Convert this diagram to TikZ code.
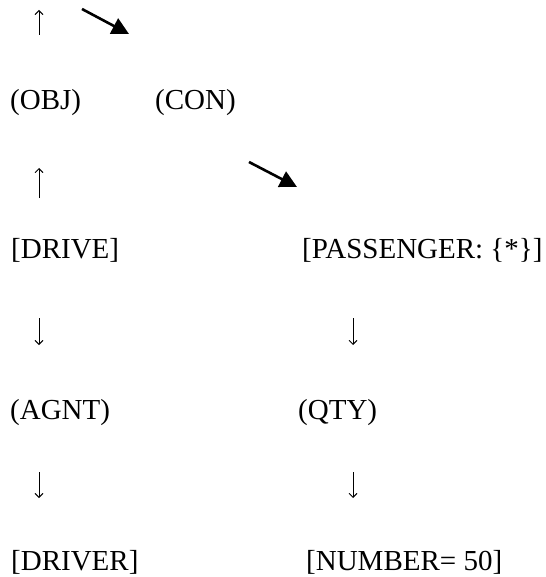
\documentclass[tikz,border=0pt]{standalone}
\usepackage{fontspec}
\setmainfont{Liberation Serif}
\usetikzlibrary{arrows.meta}

\tikzset{
    cgtext/.style={anchor=base west, inner sep=0pt, font=\fontsize{29}{34}\selectfont},
    thinarrow/.style={-{Straight Barb[length=4pt, width=8pt]}, line width=0.9pt},
    bigarrow/.style={-{Triangle[length=17pt, width=17pt]}, line width=2.6pt}
}

\begin{document}
\begin{tikzpicture}[x=1pt, y=-1pt]
    \useasboundingbox (0,0) rectangle (545,577);

    % Relations and concepts
    \node[cgtext] (obj) at (10,110) {(OBJ)};
    \node[cgtext] (con) at (155,110) {(CON)};
    \node[cgtext] (drive) at (11,258) {[DRIVE]};
    \node[cgtext] (passenger) at (302,258) {[PASSENGER: \{*\}]};
    \node[cgtext] (agnt) at (10,419) {(AGNT)};
    \node[cgtext] (qty) at (298,419) {(QTY)};
    \node[cgtext] (driver) at (11,570) {[DRIVER]};
    \node[cgtext] (number) at (306,570) {[NUMBER= 50]};

    % Arrow ends
    \coordinate (up1a) at (39,35);   \coordinate (up1b) at (39,10);
    \coordinate (up2a) at (39,198);  \coordinate (up2b) at (39,168);
    \coordinate (dn1a) at (39,318);  \coordinate (dn1b) at (39,345);
    \coordinate (dn2a) at (353,318); \coordinate (dn2b) at (353,345);
    \coordinate (dn3a) at (39,472);  \coordinate (dn3b) at (39,498);
    \coordinate (dn4a) at (353,472); \coordinate (dn4b) at (353,498);
    \coordinate (sl1a) at (82,9);    \coordinate (sl1b) at (129,34);
    \coordinate (sl2a) at (249,162); \coordinate (sl2b) at (297,187);

    % Arrows
    \draw[thinarrow] (up1a) -- (up1b);
    \draw[thinarrow] (up2a) -- (up2b);
    \draw[thinarrow] (dn1a) -- (dn1b);
    \draw[thinarrow] (dn2a) -- (dn2b);
    \draw[thinarrow] (dn3a) -- (dn3b);
    \draw[thinarrow] (dn4a) -- (dn4b);
    \draw[bigarrow] (sl1a) -- (sl1b);
    \draw[bigarrow] (sl2a) -- (sl2b);
\end{tikzpicture}
\end{document}
